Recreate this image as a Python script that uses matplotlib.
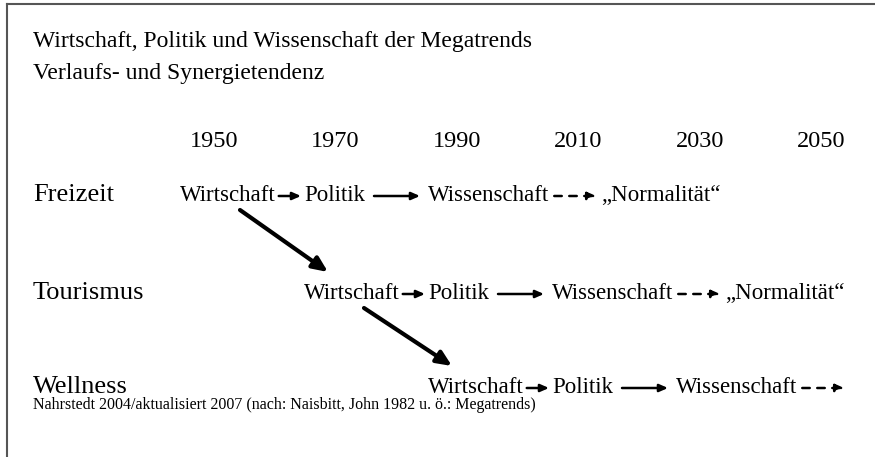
import matplotlib.pyplot as plt

# chart content
title_lines = ["Wirtschaft, Politik und Wissenschaft der Megatrends",
               "Verlaufs- und Synergietendenz"]
years = ["1950", "1970", "1990", "2010", "2030", "2050"]
rows = ["Freizeit", "Tourismus", "Wellness"]
stages = ["Wirtschaft", "Politik", "Wissenschaft", "\u201eNormalit\u00e4t\u201c"]
# how many stages each row shows (Wellness ends with the dashed arrow only)
row_stages = [4, 4, 3]
source = ("Nahrstedt 2004/aktualisiert 2007 (nach: Naisbitt, John 1982 u. \u00f6.: "
          "Megatrends)")

plt.rcParams['font.family'] = ['Liberation Serif', 'DejaVu Serif']

fig = plt.figure(figsize=(8.75, 4.57), dpi=100)
ax = fig.add_axes([0, 0, 1, 1])
ax.set_xlim(0, 875)
ax.set_ylim(457, 0)
ax.axis('off')
renderer = fig.canvas.get_renderer()
inv = ax.transData.inverted()

# frame lines (top and left)
ax.plot([7, 875], [4, 4], color='#555555', lw=1.5)
ax.plot([7, 7], [4, 457], color='#555555', lw=1.5)

ax.text(33, 47, title_lines[0], fontsize=17, va='baseline', ha='left')
ax.text(33, 79, title_lines[1], fontsize=17, va='baseline', ha='left')

year_x0, year_dx = 214, 121.5
for i, y in enumerate(years):
    ax.text(year_x0 + i * year_dx, 147, y, fontsize=17.5, ha='center',
            va='baseline')

row_y = [201, 299, 393]
row_x0, row_dx = 180, 124
# left edge of the first three stages inside a row
stage_off = [0, 124, 248]
arrow_kind = ['solid', 'solid', 'dashed']
gaps = [(3, 3), (9, 8), (5, 5)]
dash_len = 42


def right_edge(t):
    bb = t.get_window_extent(renderer)
    return inv.transform((bb.x1, bb.y0))[0]


for r, name in enumerate(rows):
    yy = row_y[r]
    ax.text(33, yy, name, fontsize=19, ha='left', va='baseline')
    x0 = row_x0 + r * row_dx
    n = row_stages[r]
    ends = []
    for s in range(min(n, 3)):
        t = ax.text(x0 + stage_off[s], yy, stages[s], fontsize=16.5,
                    ha='left', va='baseline')
        ends.append(right_edge(t))
    for a in range(3):
        g0, g1 = gaps[a]
        start = ends[a] + g0
        if a < 2:
            stop = x0 + stage_off[a + 1] - g1
        else:
            stop = start + dash_len
        ls = '-' if arrow_kind[a] == 'solid' else (0, (3, 3))
        ax.annotate('', xy=(stop, yy - 5), xytext=(start, yy - 5),
                    arrowprops=dict(arrowstyle='-|>,head_length=0.5,head_width=0.22',
                                    lw=1.8, color='black', linestyle=ls,
                                    shrinkA=0, shrinkB=0))
        if a == 2 and n > 3:
            ax.text(stop + g1, yy, stages[3], fontsize=16.5,
                    ha='left', va='baseline')

# diagonal arrows between rows
for r in range(len(rows) - 1):
    x0 = row_x0 + r * row_dx
    ax.annotate('', xy=(x0 + 148, row_y[r + 1] - 27),
                xytext=(x0 + 60, row_y[r] + 9),
                arrowprops=dict(arrowstyle='-|>,head_length=0.9,head_width=0.4',
                                lw=3, color='black', shrinkA=0, shrinkB=0))

ax.text(33, 409, source, fontsize=11.5, ha='left', va='baseline')

fig.savefig('out.png', dpi=100)
